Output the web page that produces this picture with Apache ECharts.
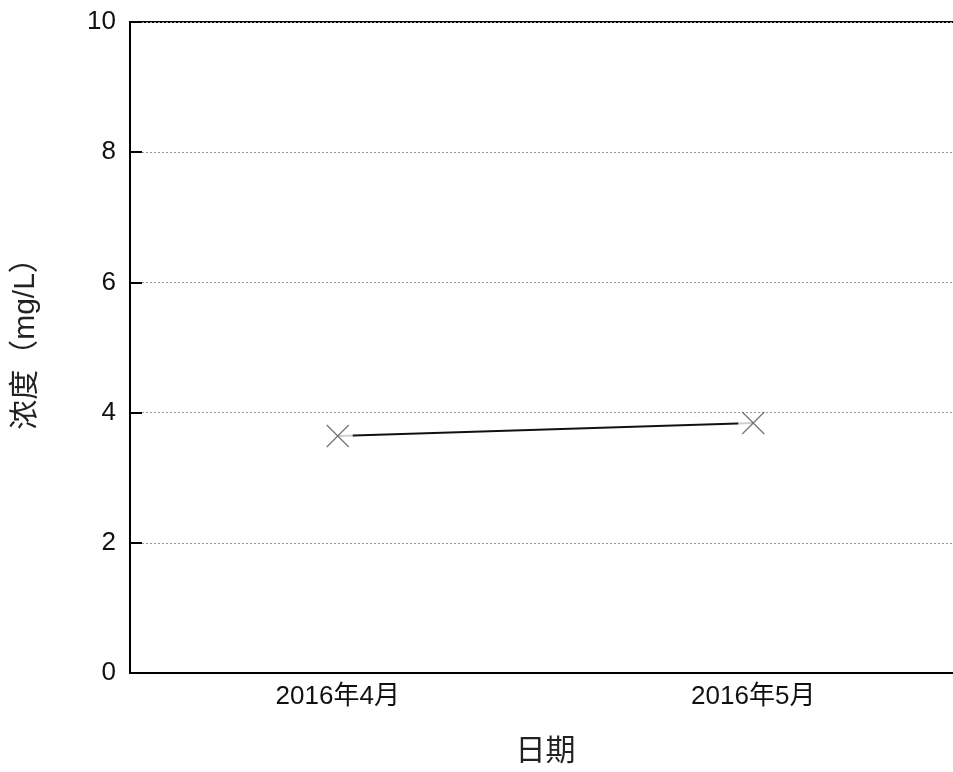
<!DOCTYPE html>
<html>
<head>
<meta charset="utf-8">
<script src="https://cdn.jsdelivr.net/npm/echarts@6/dist/echarts.min.js"></script>
<style>
  html, body { margin: 0; padding: 0; background: #fff; }
  #chart { width: 953px; height: 772px; }
</style>
</head>
<body>
<div id="chart"></div>
<script>
var dates = ['2016年4月', '2016年5月'];
var concentration = [3.64, 3.84];
var yTicks = [0, 2, 4, 6, 8, 10];

var font = '"Liberation Sans", Arial, "Noto Sans CJK SC", sans-serif';
var cjk = '"Noto Sans CJK SC", sans-serif';

var chart = echarts.init(document.getElementById('chart'));
chart.setOption({
    backgroundColor: '#fff',
    animation: false,
    grid: {
        left: 130,
        right: -8,
        top: 22,
        bottom: 99,
        outerBoundsMode: 'none',
        containLabel: false,
        show: true,
        borderColor: '#000',
        borderWidth: 2,
        backgroundColor: 'transparent'
    },
    xAxis: {
        type: 'category',
        data: dates,
        boundaryGap: true,
        name: '日期',
        nameLocation: 'middle',
        nameGap: 61,
        nameTextStyle: {
            color: '#222',
            fontSize: 30,
            fontFamily: cjk
        },
        axisLine: { lineStyle: { color: '#000', width: 2 } },
        axisTick: {
            inside: true,
            alignWithLabel: true,
            length: 10,
            lineStyle: { color: '#000', width: 2 }
        },
        axisLabel: {
            color: '#111',
            fontSize: 26,
            margin: 11,
            fontFamily: font
        },
        splitLine: { show: false }
    },
    yAxis: {
        type: 'value',
        min: yTicks[0],
        max: yTicks[yTicks.length - 1],
        interval: 2,
        name: '浓度（mg/L）',
        nameLocation: 'middle',
        nameGap: 89,
        nameRotate: 90,
        nameTextStyle: {
            color: '#222',
            fontSize: 30,
            fontFamily: font,
            padding: [0, 0, 0, 22]
        },
        axisLine: { show: true, lineStyle: { color: '#000', width: 2 } },
        axisTick: {
            show: true,
            inside: true,
            length: 12,
            lineStyle: { color: '#000', width: 2 }
        },
        axisLabel: {
            color: '#111',
            fontSize: 26,
            margin: 14,
            fontFamily: font
        },
        splitLine: {
            show: true,
            lineStyle: { color: '#999', type: [2, 2], width: 1 }
        }
    },
    series: [{
        type: 'line',
        data: concentration,
        showSymbol: false,
        lineStyle: { color: '#111', width: 2 },
        z: 2
    }, {
        // white patch that leaves a small gap between the line and each marker
        type: 'scatter',
        data: concentration,
        symbol: 'rect',
        symbolSize: [30, 18],
        itemStyle: { color: '#fff' },
        silent: true,
        z: 3
    }, {
        type: 'scatter',
        data: concentration,
        symbol: 'path://M0,0L10,10M10,0L0,10',
        symbolSize: 22,
        itemStyle: {
            color: 'transparent',
            borderColor: '#555',
            borderWidth: 1.3
        },
        z: 4
    }]
});
</script>
</body>
</html>
